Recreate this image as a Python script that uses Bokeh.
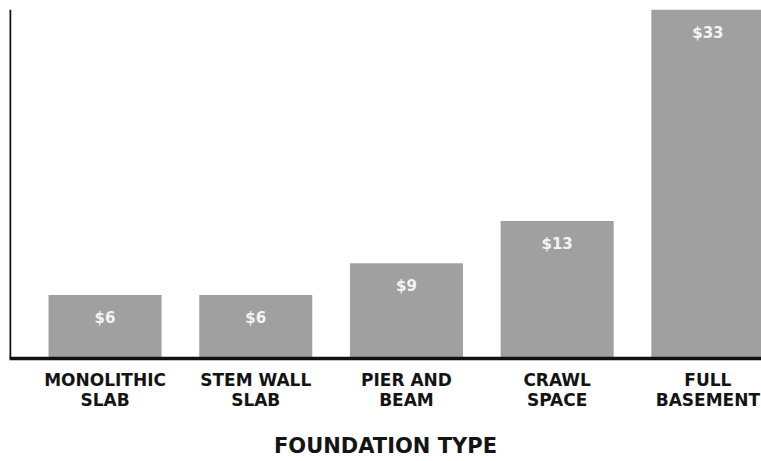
from bokeh.plotting import figure
from bokeh.models import ColumnDataSource, Range1d, FixedTicker, Span
from bokeh.core.properties import value
from bokeh.embed import file_html
from bokeh.resources import INLINE

# Cost per square foot by foundation type
categories = ["MONOLITHIC\nSLAB", "STEM WALL\nSLAB", "PIER AND\nBEAM", "CRAWL\nSPACE", "FULL\nBASEMENT"]
costs = [6, 6, 9, 13, 33]
cost_labels = ["$6", "$6", "$9", "$13", "$33"]

positions = list(range(len(categories)))
source = ColumnDataSource(dict(x=positions, top=costs, label=cost_labels))

FONT = "DejaVu Sans"
x_start, x_end = -0.634, 4.356
y_end = 33.0

p = figure(
    width=761, height=461,
    x_range=Range1d(x_start, x_end), y_range=Range1d(0, y_end),
    output_backend="svg", toolbar_location=None,
    min_border_left=9, min_border_right=0, min_border_top=9, min_border_bottom=103,
)
p.outline_line_color = None
p.grid.visible = False
p.background_fill_color = "white"
p.border_fill_color = "white"

p.vbar(x="x", top="top", width=0.75, bottom=0, source=source,
       fill_color="#a0a0a0", line_color=None)

p.text(x="x", y="top", text="label", source=source, y_offset=23,
       text_align="center", text_baseline="middle",
       text_color="#f4f4f4", text_font=value(FONT), text_font_style="bold",
       text_font_size="15px")

# left axis drawn as a plain rule along the frame edge
p.yaxis.visible = False
p.add_layout(Span(location=x_start, dimension="height",
                  line_color="#111111", line_width=3.5))

xa = p.xaxis[0]
xa.ticker = FixedTicker(ticks=positions)
xa.major_label_overrides = {i: c for i, c in zip(positions, categories)}
xa.major_tick_line_color = None
xa.minor_tick_line_color = None
xa.major_tick_out = 0
xa.major_tick_in = 0
xa.axis_line_color = "#111111"
xa.axis_line_width = 3.5
xa.major_label_standoff = 11
xa.major_label_text_font = FONT
xa.major_label_text_font_style = "bold"
xa.major_label_text_font_size = "17px"
xa.major_label_text_line_height = 1.0
xa.major_label_text_color = "#141414"
xa.axis_label = "FOUNDATION TYPE"
xa.axis_label_text_font = FONT
xa.axis_label_text_font_style = "bold"
xa.axis_label_text_font_size = "21px"
xa.axis_label_text_color = "#141414"
xa.axis_label_standoff = 21

open("out.html", "w").write(file_html(p, INLINE))
